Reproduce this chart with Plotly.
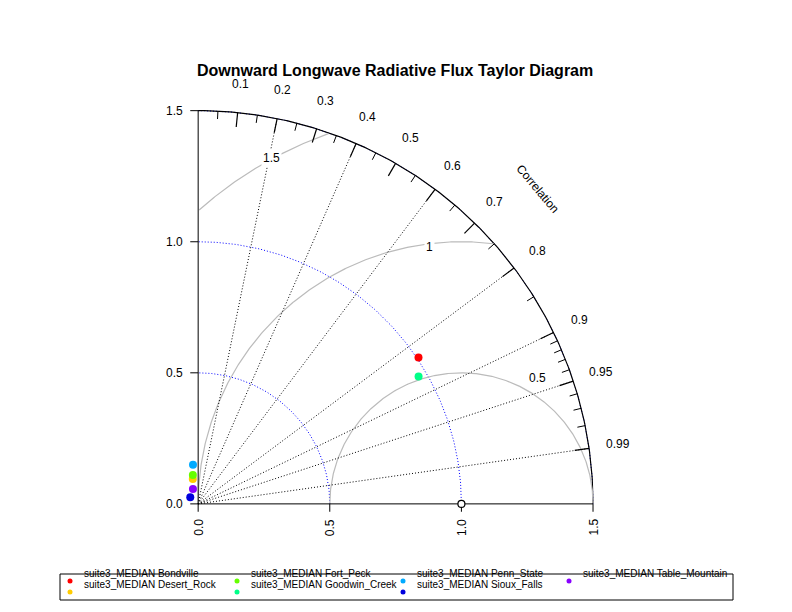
import numpy as np
import plotly.graph_objects as go

# --- data ---
stations = ["suite3_MEDIAN Bondville", "suite3_MEDIAN Desert_Rock", "suite3_MEDIAN Fort_Peck",
            "suite3_MEDIAN Goodwin_Creek", "suite3_MEDIAN Penn_State", "suite3_MEDIAN Sioux_Falls",
            "suite3_MEDIAN Table_Mountain"]
std_dev = [1.006, 0.097, 0.112, 0.968, 0.151, 0.039, 0.060]
corr = [0.832, -0.21, -0.18, 0.865, -0.13, -0.77, -0.33]
colors = ["#FF0000", "#FFCC00", "#66FF00", "#00FF88", "#00AAFF", "#0000DD", "#8800FF"]

corr_lines = [0.2, 0.4, 0.6, 0.8, 0.9, 0.95, 0.99]
corr_labels = [0.1, 0.2, 0.3, 0.4, 0.5, 0.6, 0.7, 0.8, 0.9, 0.95, 0.99]
minor_ticks = [0.05, 0.15, 0.25, 0.35, 0.45, 0.55, 0.65, 0.75, 0.85, 0.91, 0.92, 0.93, 0.94, 0.96, 0.97, 0.98]
sd_rings = [0.5, 1.0, 1.5]
rms_rings = [0.5, 1.0, 1.5]
sd_ticks = [0.0, 0.5, 1.0, 1.5]
sd_max = 1.5

W, H = 792, 612
L, R, T, B = 177, 128, 45, 103
PW, PH = W - L - R, H - T - B
OFF = 8  # page body margin

def px(x):  # page pixel -> paper x
    return (x - OFF - L) / PW

def py(y):  # page pixel -> paper y
    return (H - B - (y - OFF)) / PH

fig = go.Figure()
DOT = "1px,2px"

def line(x, y, color, dash="solid", width=1):
    fig.add_trace(go.Scatter(x=x, y=y, mode="lines", line=dict(color=color, dash=dash, width=width),
                             showlegend=False, hoverinfo="skip"))

th = np.linspace(0, np.pi / 2, 200)
for r in sd_rings:
    line(r * np.cos(th), r * np.sin(th), "blue", DOT, 1)
line(sd_max * np.cos(th), sd_max * np.sin(th), "black", width=1.2)

t = np.linspace(0, np.pi, 600)
for r in rms_rings:
    x = 1 + r * np.cos(t)
    y = r * np.sin(t)
    m = (x ** 2 + y ** 2 <= sd_max ** 2 + 1e-9) & (x >= 0)
    line(x[m], y[m], "#BBBBBB", width=1.2)
rms_pos = {"0.5": (1.29, 0.48), "1": (0.88, 0.98), "1.5": (0.28, 1.32)}
annots = []
for lab, (xx, yy) in rms_pos.items():
    annots.append(dict(x=xx, y=yy, text=lab, showarrow=False, bgcolor="white", font=dict(size=12)))

for c in corr_lines:
    line([0, sd_max * c], [0, sd_max * np.sqrt(1 - c ** 2)], "black", DOT, 1)

for c in corr_labels:
    s = np.sqrt(1 - c ** 2)
    line([sd_max * c, (sd_max - 0.055) * c], [sd_max * s, (sd_max - 0.055) * s], "black", width=1.2)
    annots.append(dict(x=1.61 * c, y=1.61 * s, text=str(c), showarrow=False, font=dict(size=12)))
for c in minor_ticks:
    s = np.sqrt(1 - c ** 2)
    line([sd_max * c, (sd_max - 0.03) * c], [sd_max * s, (sd_max - 0.03) * s], "black", width=1)
annots.append(dict(x=1.29, y=1.20, text="Correlation", textangle=50, showarrow=False, font=dict(size=12)))

line([0, 0], [0, sd_max], "black", width=1)
line([0, sd_max], [0, 0], "black", width=1)
for v in sd_ticks:
    line([0, -0.03], [v, v], "black", width=1)
    line([v, v], [0, -0.03], "black", width=1)
    annots.append(dict(x=-0.05, y=v, text=f"{v:.1f}", showarrow=False, xanchor="right", font=dict(size=12)))
    annots.append(dict(x=v, y=-0.05, text=f"{v:.1f}", showarrow=False, yanchor="top", textangle=-90,
                       font=dict(size=12)))
annots.append(dict(x=-0.16, y=0.75, text="Standard Deviation", textangle=-90, showarrow=False, font=dict(size=12)))
annots.append(dict(x=0.75, y=-0.155, text="Standard Deviation", showarrow=False, font=dict(size=12)))
annots.append(dict(text="<b>Downward Longwave Radiative Flux Taylor Diagram</b>", x=px(395), y=py(60),
                   xref="paper", yref="paper", showarrow=False, font=dict(size=16)))

fig.add_trace(go.Scatter(x=[1.0], y=[0.0], mode="markers", showlegend=False, hoverinfo="skip",
                         marker=dict(size=7, color="white", line=dict(color="black", width=1.2))))

for name, sd, c, col in zip(stations, std_dev, corr, colors):
    fig.add_trace(go.Scatter(x=[sd * c], y=[sd * np.sqrt(1 - c ** 2)], mode="markers", name=name,
                             showlegend=False, marker=dict(size=8, color=col)))

# legend box, column-major like R
shapes = [dict(type="rect", xref="paper", yref="paper", x0=px(60), x1=px(733), y0=py(600), y1=py(574),
               line=dict(color="black", width=1))]
col_x = [70, 237, 403, 569]
row_y = [581, 592]
for i, (name, col) in enumerate(zip(stations, colors)):
    cx, cy = col_x[i // 2], row_y[i % 2]
    shapes.append(dict(type="circle", xref="paper", yref="paper", x0=px(cx - 2.5), x1=px(cx + 2.5),
                       y0=py(cy + 2.5), y1=py(cy - 2.5), fillcolor=col, line=dict(width=0)))
    annots.append(dict(x=px(cx + 12), y=py(cy), xref="paper", yref="paper", text=name, showarrow=False,
                       xanchor="left", font=dict(size=10)))

fig.update_layout(
    width=W, height=H,
    margin=dict(l=L, r=R, t=T, b=B),
    plot_bgcolor="white", paper_bgcolor="white",
    font=dict(family="Liberation Sans, Arial, sans-serif", size=12, color="black"),
    xaxis=dict(range=[-0.05, 1.8], visible=False),
    yaxis=dict(range=[-0.05, 1.72], visible=False),
    showlegend=False,
    annotations=annots,
    shapes=shapes,
)
fig.write_html("out.html")
